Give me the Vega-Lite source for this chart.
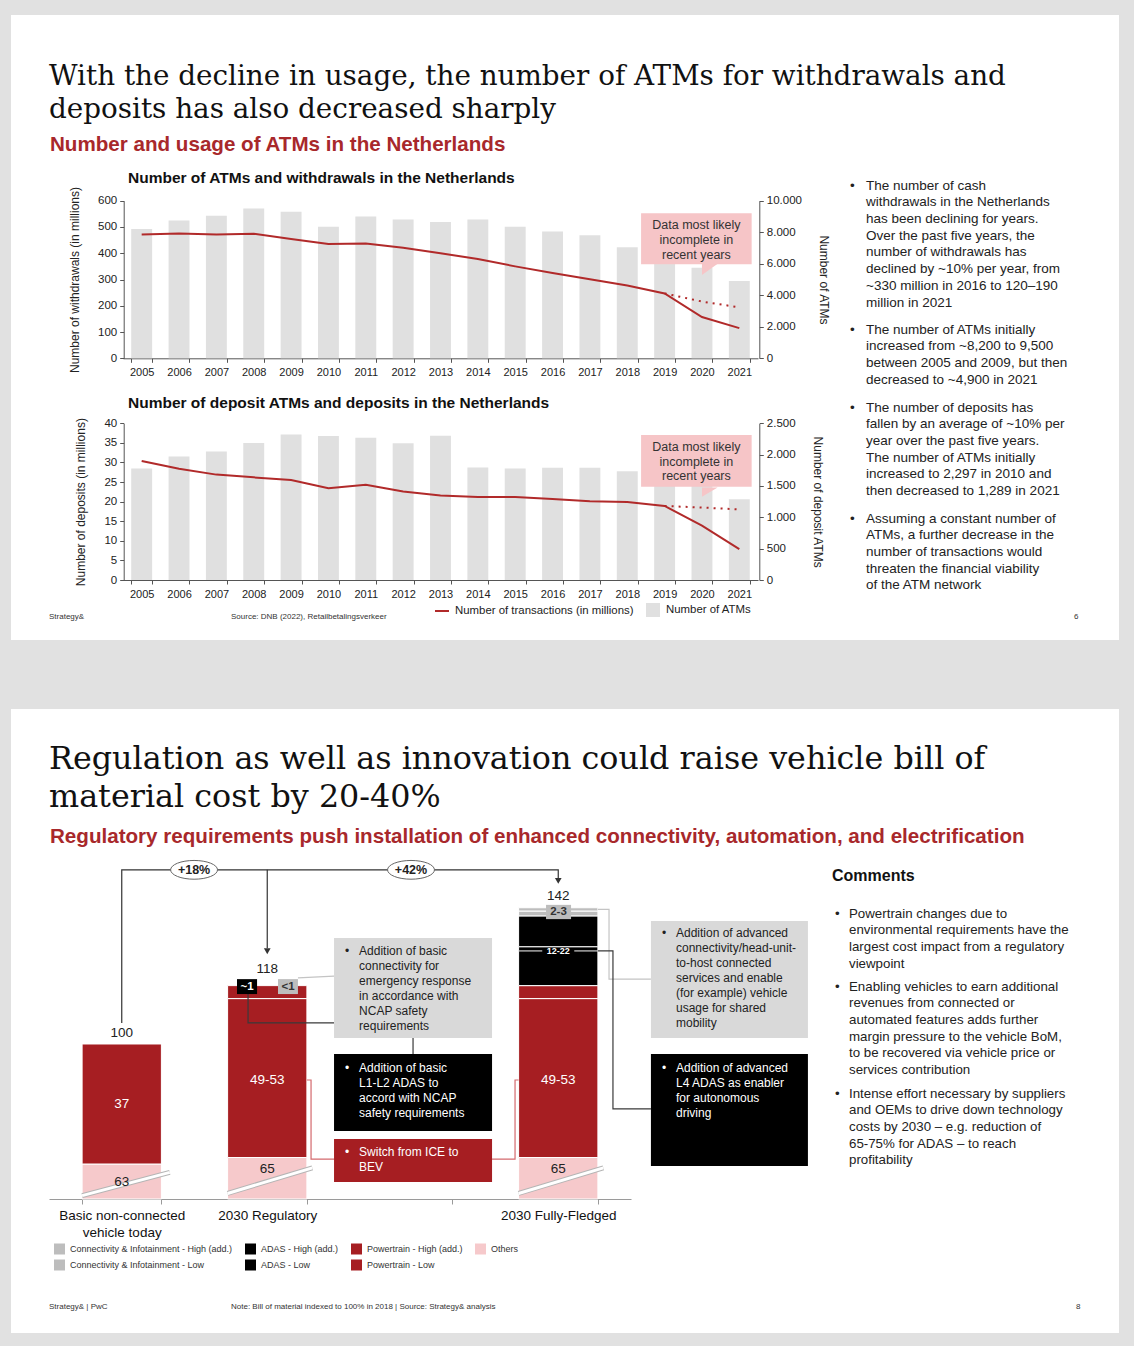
{
  "$schema": "https://vega.github.io/schema/vega-lite/v6.json",
  "background": "#e1e1e1",
  "padding": {"left": 10, "top": 15, "right": 16, "bottom": 14},
  "spacing": 68,
  "config": {
    "font": "Liberation Sans",
    "view": {"stroke": null},
    "text": {"font": "Liberation Sans"},
    "axis": {"labelFont": "Liberation Sans", "titleFont": "Liberation Sans", "grid": false},
    "legend": {"labelFont": "Liberation Sans", "padding": 0, "labelLimit": 400}
  },
  "resolve": {
    "scale": {"color": "independent", "fill": "independent", "stroke": "independent"},
    "legend": {"color": "independent", "fill": "independent", "stroke": "independent"}
  },
  "datasets": {
    "atm": [
      {"year": 2005, "atms": 8200, "withdrawals": 471, "deposit_atms": 1780, "deposits": 30.4},
      {"year": 2006, "atms": 8750, "withdrawals": 475, "deposit_atms": 1970, "deposits": 28.4},
      {"year": 2007, "atms": 9050, "withdrawals": 471, "deposit_atms": 2050, "deposits": 26.9},
      {"year": 2008, "atms": 9500, "withdrawals": 474, "deposit_atms": 2185, "deposits": 26.2},
      {"year": 2009, "atms": 9300, "withdrawals": 454, "deposit_atms": 2320, "deposits": 25.5},
      {"year": 2010, "atms": 8350, "withdrawals": 435, "deposit_atms": 2297, "deposits": 23.4},
      {"year": 2011, "atms": 9000, "withdrawals": 437, "deposit_atms": 2270, "deposits": 24.3},
      {"year": 2012, "atms": 8800, "withdrawals": 421, "deposit_atms": 2180, "deposits": 22.6},
      {"year": 2013, "atms": 8650, "withdrawals": 400, "deposit_atms": 2300, "deposits": 21.6},
      {"year": 2014, "atms": 8800, "withdrawals": 378, "deposit_atms": 1795, "deposits": 21.2},
      {"year": 2015, "atms": 8350, "withdrawals": 350, "deposit_atms": 1780, "deposits": 21.2},
      {"year": 2016, "atms": 8050, "withdrawals": 325, "deposit_atms": 1790, "deposits": 20.7},
      {"year": 2017, "atms": 7800, "withdrawals": 301, "deposit_atms": 1790, "deposits": 20.1},
      {"year": 2018, "atms": 7050, "withdrawals": 277, "deposit_atms": 1735, "deposits": 19.9},
      {"year": 2019, "atms": 6600, "withdrawals": 247, "deposit_atms": 1650, "deposits": 18.9},
      {"year": 2020, "atms": 5750, "withdrawals": 157, "deposit_atms": 1550, "deposits": 13.9},
      {"year": 2021, "atms": 4900, "withdrawals": 115, "deposit_atms": 1289, "deposits": 7.9}
    ],
    "atm_est": [
      {"year": 2019, "withdrawals": 247, "deposits": 18.9},
      {"year": 2020, "withdrawals": 216, "deposits": 18.5},
      {"year": 2021, "withdrawals": 194, "deposits": 18.0}
    ],
    "notes1": [
      {"para": 1, "part": "bullet", "text": "•"},
      {"para": 1, "part": "body", "text": "The number of cash\nwithdrawals in the Netherlands\nhas been declining for years.\nOver the past five years, the\nnumber of withdrawals has\ndeclined by ~10% per year, from\n~330 million in 2016 to 120–190\nmillion in 2021"},
      {"para": 2, "part": "bullet", "text": "•"},
      {"para": 2, "part": "body", "text": "The number of ATMs initially\nincreased from ~8,200 to 9,500\nbetween 2005 and 2009, but then\ndecreased to ~4,900 in 2021"},
      {"para": 3, "part": "bullet", "text": "•"},
      {"para": 3, "part": "body", "text": "The number of deposits has\nfallen by an average of ~10% per\nyear over the past five years.\nThe number of ATMs initially\nincreased to 2,297 in 2010 and\nthen decreased to 1,289 in 2021"},
      {"para": 4, "part": "bullet", "text": "•"},
      {"para": 4, "part": "body", "text": "Assuming a constant number of\nATMs, a further decrease in the\nnumber of transactions would\nthreaten the financial viability\nof the ATM network"}
    ],
    "bom": [
      {"cat": "Basic non-connected vehicle today", "component": "Others", "lo": 0, "hi": 63},
      {"cat": "Basic non-connected vehicle today", "component": "Powertrain - Low", "lo": 63, "hi": 100},
      {"cat": "2030 Regulatory", "component": "Others", "lo": 0, "hi": 65},
      {"cat": "2030 Regulatory", "component": "Powertrain - Low", "lo": 65, "hi": 114},
      {"cat": "2030 Regulatory", "component": "Powertrain - High (add.)", "lo": 114, "hi": 118},
      {"cat": "2030 Fully-Fledged", "component": "Others", "lo": 0, "hi": 65},
      {"cat": "2030 Fully-Fledged", "component": "Powertrain - Low", "lo": 65, "hi": 114},
      {"cat": "2030 Fully-Fledged", "component": "Powertrain - High (add.)", "lo": 114, "hi": 118},
      {"cat": "2030 Fully-Fledged", "component": "ADAS - Low", "lo": 118, "hi": 130},
      {"cat": "2030 Fully-Fledged", "component": "ADAS - High (add.)", "lo": 130, "hi": 139.5},
      {"cat": "2030 Fully-Fledged", "component": "Connectivity & Infotainment - Low", "lo": 139.5, "hi": 141},
      {"cat": "2030 Fully-Fledged", "component": "Connectivity & Infotainment - High (add.)", "lo": 141, "hi": 142}
    ],
    "breaks": [
      {"x0": 0.2275, "v0": 6, "x1": 0.83, "v1": 48},
      {"x0": 1.2275, "v0": 10, "x1": 1.81, "v1": 56},
      {"x0": 3.2275, "v0": 10, "x1": 3.81, "v1": 56}
    ],
    "bom_labels": [
      {"pos": 0.5, "v": 81.5, "label": "37", "on": "powertrain"},
      {"pos": 1.5, "v": 88.9, "label": "49-53", "on": "powertrain"},
      {"pos": 3.5, "v": 88.9, "label": "49-53", "on": "powertrain"},
      {"pos": 0.5, "v": 30.6, "label": "63", "on": "others"},
      {"pos": 1.5, "v": 54, "label": "65", "on": "others"},
      {"pos": 3.5, "v": 54, "label": "65", "on": "others"},
      {"pos": 0.5, "v": 103.4, "label": "100", "on": "total"},
      {"pos": 1.5, "v": 123.1, "label": "118", "on": "total"},
      {"pos": 3.5, "v": 145.6, "label": "142", "on": "total"}
    ],
    "links": [
      {"link": "growth", "seq": 1, "pos": 0.5, "v": 106.5, "kind": "growth"},
      {"link": "growth", "seq": 2, "pos": 0.5, "v": 153.7, "kind": "growth"},
      {"link": "growth", "seq": 3, "pos": 3.5, "v": 153.7, "kind": "growth"},
      {"link": "growth", "seq": 4, "pos": 3.5, "v": 151.2, "kind": "growth"},
      {"link": "growth2", "seq": 1, "pos": 1.5, "v": 153.7, "kind": "growth"},
      {"link": "growth2", "seq": 2, "pos": 1.5, "v": 129.5, "kind": "growth"},
      {"link": "adas_reg", "seq": 1, "pos": 1.368, "v": 116, "kind": "adas"},
      {"link": "adas_reg", "seq": 2, "pos": 1.368, "v": 106.5, "kind": "adas"},
      {"link": "adas_reg", "seq": 3, "pos": 1.959, "v": 106.5, "kind": "adas"},
      {"link": "box_ab", "seq": 1, "pos": 2.502, "v": 101.85, "kind": "adas"},
      {"link": "box_ab", "seq": 2, "pos": 2.502, "v": 96.9, "kind": "adas"},
      {"link": "conn_reg", "seq": 1, "pos": 1.711, "v": 120.4, "kind": "connectivity"},
      {"link": "conn_reg", "seq": 2, "pos": 1.959, "v": 120.9, "kind": "connectivity"},
      {"link": "pt_reg", "seq": 1, "pos": 1.7725, "v": 88.9, "kind": "powertrain"},
      {"link": "pt_reg", "seq": 2, "pos": 1.801, "v": 88.9, "kind": "powertrain"},
      {"link": "pt_reg", "seq": 3, "pos": 1.801, "v": 64.5, "kind": "powertrain"},
      {"link": "pt_reg", "seq": 4, "pos": 1.959, "v": 64.5, "kind": "powertrain"},
      {"link": "pt_ff", "seq": 1, "pos": 3.045, "v": 64.5, "kind": "powertrain"},
      {"link": "pt_ff", "seq": 2, "pos": 3.203, "v": 64.5, "kind": "powertrain"},
      {"link": "pt_ff", "seq": 3, "pos": 3.203, "v": 88.9, "kind": "powertrain"},
      {"link": "pt_ff", "seq": 4, "pos": 3.2275, "v": 88.9, "kind": "powertrain"},
      {"link": "conn_ff", "seq": 1, "pos": 3.7725, "v": 141.5, "kind": "connectivity"},
      {"link": "conn_ff", "seq": 2, "pos": 3.849, "v": 141.5, "kind": "connectivity"},
      {"link": "conn_ff", "seq": 3, "pos": 3.849, "v": 120.0, "kind": "connectivity"},
      {"link": "conn_ff", "seq": 4, "pos": 4.137, "v": 120.0, "kind": "connectivity"},
      {"link": "range_l", "seq": 1, "pos": 3.2275, "v": 128.7, "kind": "range"},
      {"link": "range_l", "seq": 2, "pos": 3.39, "v": 128.7, "kind": "range"},
      {"link": "range_r", "seq": 1, "pos": 3.61, "v": 128.7, "kind": "range"},
      {"link": "range_r", "seq": 2, "pos": 3.7725, "v": 128.7, "kind": "range"},
      {"link": "adas_ff", "seq": 1, "pos": 3.7725, "v": 128.7, "kind": "adas"},
      {"link": "adas_ff", "seq": 2, "pos": 3.876, "v": 128.7, "kind": "adas"},
      {"link": "adas_ff", "seq": 3, "pos": 3.876, "v": 80.0, "kind": "adas"},
      {"link": "adas_ff", "seq": 4, "pos": 4.137, "v": 80.0, "kind": "adas"}
    ],
    "boxes": [
      {"box": "A", "topic": "connectivity", "x0": 1.959, "x1": 3.045, "top": 132.7, "bottom": 101.85},
      {"box": "B", "topic": "adas", "x0": 1.959, "x1": 3.045, "top": 96.9, "bottom": 73.2},
      {"box": "C", "topic": "powertrain", "x0": 1.959, "x1": 3.045, "top": 70.7, "bottom": 30.6},
      {"box": "D", "topic": "connectivity", "x0": 4.137, "x1": 5.216, "top": 137.9, "bottom": 101.85},
      {"box": "E", "topic": "adas", "x0": 4.137, "x1": 5.216, "top": 96.9, "bottom": 59.4}
    ],
    "box_text": [
      {"topic": "connectivity", "pos": 2.034, "v": 127.4, "text": "•"},
      {"topic": "connectivity", "pos": 2.131, "v": 127.4, "text": "Addition of basic\nconnectivity for\nemergency response\nin accordance with\nNCAP safety\nrequirements"},
      {"topic": "adas", "pos": 2.034, "v": 91.3, "text": "•"},
      {"topic": "adas", "pos": 2.131, "v": 91.3, "text": "Addition of basic\nL1-L2 ADAS to\naccord with NCAP\nsafety requirements"},
      {"topic": "powertrain", "pos": 2.034, "v": 65.5, "text": "•"},
      {"topic": "powertrain", "pos": 2.131, "v": 65.5, "text": "Switch from ICE to\nBEV"},
      {"topic": "connectivity", "pos": 4.213, "v": 132.9, "text": "•"},
      {"topic": "connectivity", "pos": 4.309, "v": 132.9, "text": "Addition of advanced\nconnectivity/head-unit-\nto-host connected\nservices and enable\n(for example) vehicle\nusage for shared\nmobility"},
      {"topic": "adas", "pos": 4.213, "v": 91.3, "text": "•"},
      {"topic": "adas", "pos": 4.309, "v": 91.3, "text": "Addition of advanced\nL4 ADAS as enabler\nfor autonomous\ndriving"}
    ],
    "badges": [
      {"topic": "adas", "x0": 1.292, "x1": 1.43, "top": 120.0, "bottom": 115.4},
      {"topic": "connectivity", "x0": 1.574, "x1": 1.711, "top": 120.0, "bottom": 115.4},
      {"topic": "connectivity", "x0": 3.416, "x1": 3.588, "top": 142.9, "bottom": 138.5}
    ],
    "badge_labels": [
      {"topic": "adas", "pos": 1.361, "v": 117.7, "label": "~1"},
      {"topic": "connectivity", "pos": 1.643, "v": 117.7, "label": "<1"},
      {"topic": "connectivity", "pos": 3.502, "v": 140.7, "label": "2-3"}
    ],
    "notes2": [
      {"para": 1, "part": "bullet", "text": "•"},
      {"para": 1, "part": "body", "text": "Powertrain changes due to\nenvironmental requirements have the\nlargest cost impact from a regulatory\nviewpoint"},
      {"para": 2, "part": "bullet", "text": "•"},
      {"para": 2, "part": "body", "text": "Enabling vehicles to earn additional\nrevenues from connected or\nautomated features adds further\nmargin pressure to the vehicle BoM,\nto be recovered via vehicle price or\nservices contribution"},
      {"para": 3, "part": "bullet", "text": "•"},
      {"para": 3, "part": "body", "text": "Intense effort necessary by suppliers\nand OEMs to drive down technology\ncosts by 2030 – e.g. reduction of\n65-75% for ADAS – to reach\nprofitability"}
    ]
  },
  "vconcat": [
    {
      "width": 1108,
      "height": 625,
      "view": {"fill": "#ffffff", "stroke": null},
      "resolve": {
        "scale": {"x": "independent", "y": "independent", "color": "independent"},
        "axis": {"x": "independent", "y": "independent"}
      },
      "layer": [
        {
          "data": {"name": "atm"},
          "mark": {"type": "bar"},
          "encoding": {
            "x": {"field": "year", "type": "ordinal", "scale": {"domain": [2005,2006,2007,2008,2009,2010,2011,2012,2013,2014,2015,2016,2017,2018,2019,2020,2021], "range": [112, 747], "paddingInner": 0.44, "paddingOuter": 0.22},
              "axis": {"orient": "bottom", "offset": -281.7, "title": null, "labelAngle": 0, "tickBand": "extent", "labelFontSize": 11, "labelColor": "#222", "domainColor": "#555", "tickColor": "#555", "tickSize": 4, "labelPadding": 4}},
            "y": {"field": "atms", "type": "quantitative", "scale": {"domain": [0, 10000], "range": [343.3, 185.7], "nice": false},
              "axis": {"orient": "right", "offset": -359.7, "values": [0, 2000, 4000, 6000, 8000, 10000], "labelExpr": "replace(format(datum.value, ','), ',', '.')", "title": "Number of ATMs", "titleFontWeight": "normal", "titleFontSize": 12, "titleColor": "#222", "titlePadding": 15, "labelFontSize": 11.5, "labelColor": "#222", "domainColor": "#555", "tickColor": "#555", "tickSize": 4, "labelPadding": 3}},
            "fill": {"datum": "Number of ATMs", "type": "nominal", "scale": {"range": ["#e0e0e0"]},
              "legend": {"orient": "none", "legendX": 635, "legendY": 588, "title": null, "symbolType": "square", "symbolSize": 196, "symbolStrokeWidth": 0, "labelFontSize": 11.4, "labelColor": "#222", "labelOffset": 6, "labelLimit": 400}}
          }
        },
        {
          "data": {"name": "atm"},
          "mark": {"type": "line", "strokeWidth": 2},
          "encoding": {
            "x": {"field": "year", "type": "ordinal", "scale": {"domain": [2005,2006,2007,2008,2009,2010,2011,2012,2013,2014,2015,2016,2017,2018,2019,2020,2021], "range": [112, 747], "paddingInner": 0.44, "paddingOuter": 0.22}, "axis": null},
            "y": {"field": "withdrawals", "type": "quantitative", "scale": {"domain": [0, 600], "range": [343.3, 185.7], "nice": false},
              "axis": {"orient": "left", "offset": -112.7, "values": [0, 100, 200, 300, 400, 500, 600], "title": "Number of withdrawals (in millions)", "titleFontWeight": "normal", "titleFontSize": 12, "titleColor": "#222", "titlePadding": 16, "labelFontSize": 11.5, "labelColor": "#222", "domainColor": "#555", "tickColor": "#555", "tickSize": 4, "labelPadding": 3}},
            "stroke": {"datum": "Number of transactions (in millions)", "type": "nominal", "scale": {"range": ["#b12a2a"]},
              "legend": {"orient": "none", "legendX": 423, "legendY": 588, "title": null, "symbolType": "stroke", "symbolSize": 196, "symbolStrokeWidth": 2, "labelFontSize": 11.4, "labelColor": "#222", "labelOffset": 5, "labelLimit": 400}}
          }
        },
        {
          "data": {"name": "atm_est"},
          "mark": {"type": "line", "strokeWidth": 2, "strokeDash": [2, 5], "color": "#b12a2a"},
          "encoding": {
            "x": {"field": "year", "type": "ordinal", "scale": {"domain": [2005,2006,2007,2008,2009,2010,2011,2012,2013,2014,2015,2016,2017,2018,2019,2020,2021], "range": [112, 747], "paddingInner": 0.44, "paddingOuter": 0.22}, "axis": null},
            "y": {"field": "withdrawals", "type": "quantitative", "scale": {"domain": [0, 600], "range": [343.3, 185.7], "nice": false}, "axis": null}
          }
        },
        {
          "data": {"values": [{"from": 2018.37, "to": 2021.33, "top": 552, "bottom": 358}]},
          "mark": {"type": "rect", "color": "#f6c5c7"},
          "encoding": {
            "x": {"field": "from", "type": "quantitative", "scale": {"domain": [2005, 2021], "range": [130.68, 728.32], "nice": false, "zero": false}, "axis": null},
            "x2": {"field": "to"},
            "y": {"field": "top", "type": "quantitative", "scale": {"domain": [0, 600], "range": [343.3, 185.7], "nice": false}, "axis": null},
            "y2": {"field": "bottom"}
          }
        },
        {
          "data": {"values": [{"yr": 2020.0, "low": 317, "high": 360}, {"yr": 2020.42, "low": 360, "high": 360}]},
          "mark": {"type": "area", "color": "#f6c5c7"},
          "encoding": {
            "x": {"field": "yr", "type": "quantitative", "scale": {"domain": [2005, 2021], "range": [130.68, 728.32], "nice": false, "zero": false}, "axis": null},
            "y": {"field": "low", "type": "quantitative", "scale": {"domain": [0, 600], "range": [343.3, 185.7], "nice": false}, "axis": null},
            "y2": {"field": "high"}
          }
        },
        {
          "data": {"values": [{"yr": 2019.85, "w": 492, "note": "Data most likely\nincomplete in\nrecent years"}]},
          "mark": {"type": "text", "align": "center", "baseline": "alphabetic", "lineBreak": "\n", "lineHeight": 14.8, "fontSize": 12.5, "color": "#333333"},
          "encoding": {
            "x": {"field": "yr", "type": "quantitative", "scale": {"domain": [2005, 2021], "range": [130.68, 728.32], "nice": false, "zero": false}, "axis": null},
            "y": {"field": "w", "type": "quantitative", "scale": {"domain": [0, 600], "range": [343.3, 185.7], "nice": false}, "axis": null},
            "text": {"field": "note"}
          }
        },
        {
          "data": {"name": "atm"},
          "mark": {"type": "bar"},
          "encoding": {
            "x": {"field": "year", "type": "ordinal", "scale": {"domain": [2005,2006,2007,2008,2009,2010,2011,2012,2013,2014,2015,2016,2017,2018,2019,2020,2021], "range": [112, 747], "paddingInner": 0.44, "paddingOuter": 0.22},
              "axis": {"orient": "bottom", "offset": -60, "title": null, "labelAngle": 0, "tickBand": "extent", "labelFontSize": 11, "labelColor": "#222", "domainColor": "#555", "tickColor": "#555", "tickSize": 4, "labelPadding": 4}},
            "y": {"field": "deposit_atms", "type": "quantitative", "scale": {"domain": [0, 2500], "range": [565, 408.3], "nice": false},
              "axis": {"orient": "right", "offset": -359.7, "values": [0, 500, 1000, 1500, 2000, 2500], "labelExpr": "replace(format(datum.value, ','), ',', '.')", "title": "Number of deposit ATMs", "titleFontWeight": "normal", "titleFontSize": 12, "titleColor": "#222", "titlePadding": 15, "labelFontSize": 11.5, "labelColor": "#222", "domainColor": "#555", "tickColor": "#555", "tickSize": 4, "labelPadding": 3}},
            "fill": {"datum": "Number of ATMs", "type": "nominal", "scale": {"range": ["#e0e0e0"]}, "legend": null}
          }
        },
        {
          "data": {"name": "atm"},
          "mark": {"type": "line", "strokeWidth": 2},
          "encoding": {
            "x": {"field": "year", "type": "ordinal", "scale": {"domain": [2005,2006,2007,2008,2009,2010,2011,2012,2013,2014,2015,2016,2017,2018,2019,2020,2021], "range": [112, 747], "paddingInner": 0.44, "paddingOuter": 0.22}, "axis": null},
            "y": {"field": "deposits", "type": "quantitative", "scale": {"domain": [0, 40], "range": [565, 408.3], "nice": false},
              "axis": {"orient": "left", "offset": -112.7, "values": [0, 5, 10, 15, 20, 25, 30, 35, 40], "title": "Number of deposits (in millions)", "titleFontWeight": "normal", "titleFontSize": 12, "titleColor": "#222", "titlePadding": 16, "labelFontSize": 11.5, "labelColor": "#222", "domainColor": "#555", "tickColor": "#555", "tickSize": 4, "labelPadding": 3}},
            "stroke": {"datum": "Number of transactions (in millions)", "type": "nominal", "scale": {"range": ["#b12a2a"]}, "legend": null}
          }
        },
        {
          "data": {"name": "atm_est"},
          "mark": {"type": "line", "strokeWidth": 2, "strokeDash": [2, 5], "color": "#b12a2a"},
          "encoding": {
            "x": {"field": "year", "type": "ordinal", "scale": {"domain": [2005,2006,2007,2008,2009,2010,2011,2012,2013,2014,2015,2016,2017,2018,2019,2020,2021], "range": [112, 747], "paddingInner": 0.44, "paddingOuter": 0.22}, "axis": null},
            "y": {"field": "deposits", "type": "quantitative", "scale": {"domain": [0, 40], "range": [565, 408.3], "nice": false}, "axis": null}
          }
        },
        {
          "data": {"values": [{"from": 2018.37, "to": 2021.33, "top": 37.0, "bottom": 23.8}]},
          "mark": {"type": "rect", "color": "#f6c5c7"},
          "encoding": {
            "x": {"field": "from", "type": "quantitative", "scale": {"domain": [2005, 2021], "range": [130.68, 728.32], "nice": false, "zero": false}, "axis": null},
            "x2": {"field": "to"},
            "y": {"field": "top", "type": "quantitative", "scale": {"domain": [0, 40], "range": [565, 408.3], "nice": false}, "axis": null},
            "y2": {"field": "bottom"}
          }
        },
        {
          "data": {"values": [{"yr": 2020.0, "low": 21.26, "high": 23.6}, {"yr": 2020.42, "low": 23.6, "high": 23.6}]},
          "mark": {"type": "area", "color": "#f6c5c7"},
          "encoding": {
            "x": {"field": "yr", "type": "quantitative", "scale": {"domain": [2005, 2021], "range": [130.68, 728.32], "nice": false, "zero": false}, "axis": null},
            "y": {"field": "low", "type": "quantitative", "scale": {"domain": [0, 40], "range": [565, 408.3], "nice": false}, "axis": null},
            "y2": {"field": "high"}
          }
        },
        {
          "data": {"values": [{"yr": 2019.85, "d": 33.0, "note": "Data most likely\nincomplete in\nrecent years"}]},
          "mark": {"type": "text", "align": "center", "baseline": "alphabetic", "lineBreak": "\n", "lineHeight": 14.8, "fontSize": 12.5, "color": "#333333"},
          "encoding": {
            "x": {"field": "yr", "type": "quantitative", "scale": {"domain": [2005, 2021], "range": [130.68, 728.32], "nice": false, "zero": false}, "axis": null},
            "y": {"field": "d", "type": "quantitative", "scale": {"domain": [0, 40], "range": [565, 408.3], "nice": false}, "axis": null},
            "text": {"field": "note"}
          }
        },
        {
          "data": {"values": [
            {"chart": 1, "title": "Number of ATMs and withdrawals in the Netherlands"},
            {"chart": 2, "title": "Number of deposit ATMs and deposits in the Netherlands"}
          ]},
          "mark": {"type": "text", "align": "left", "baseline": "alphabetic", "fontSize": 15.5, "fontWeight": "bold", "color": "#111111", "x": 117},
          "encoding": {
            "y": {"field": "chart", "type": "quantitative", "scale": {"domain": [1, 2], "range": [168.3, 393.3], "nice": false, "zero": false}, "axis": null},
            "text": {"field": "title"}
          }
        },
        {
          "data": {"values": [{"headline": "With the decline in usage, the number of ATMs for withdrawals and\ndeposits has also decreased sharply"}]},
          "mark": {"type": "text", "font": "DejaVu Serif", "fontSize": 27.8, "lineHeight": 33, "lineBreak": "\n", "align": "left", "baseline": "alphabetic", "color": "#111111", "x": 38, "y": 70.3},
          "encoding": {"text": {"field": "headline"}}
        },
        {
          "data": {"values": [{"subtitle": "Number and usage of ATMs in the Netherlands"}]},
          "mark": {"type": "text", "fontSize": 20.6, "fontWeight": "bold", "color": "#a8282b", "align": "left", "baseline": "alphabetic", "x": 39, "y": 136},
          "encoding": {"text": {"field": "subtitle"}}
        },
        {
          "data": {"name": "notes1"},
          "mark": {"type": "text", "align": "left", "baseline": "alphabetic", "lineBreak": "\n", "lineHeight": 16.7, "fontSize": 13.5, "color": "#222222"},
          "encoding": {
            "x": {"field": "part", "type": "nominal", "scale": {"type": "point", "domain": ["bullet", "body"], "range": [839, 855], "padding": 0}, "axis": null},
            "y": {"field": "para", "type": "quantitative", "scale": {"domain": [1, 2, 3, 4], "range": [174.7, 318.7, 396.7, 507.7], "nice": false, "zero": false}, "axis": null},
            "text": {"field": "text"}
          }
        },
        {
          "data": {"values": [
            {"slot": 1, "text": "Strategy&"},
            {"slot": 2, "text": "Source: DNB (2022), Retailbetalingsverkeer"},
            {"slot": 3, "text": "6"}
          ]},
          "mark": {"type": "text", "align": "left", "baseline": "alphabetic", "fontSize": 8, "color": "#333333", "y": 603.5},
          "encoding": {
            "x": {"field": "slot", "type": "quantitative", "scale": {"domain": [1, 2, 3], "range": [38, 220, 1063], "nice": false, "zero": false}, "axis": null},
            "text": {"field": "text"}
          }
        }
      ]
    },
    {
      "width": 1108,
      "height": 624,
      "view": {"fill": "#ffffff", "stroke": null},
      "resolve": {
        "scale": {"x": "independent", "y": "independent", "color": "independent", "stroke": "independent"},
        "axis": {"x": "independent", "y": "independent"}
      },
      "layer": [
        {
          "data": {"name": "bom"},
          "mark": {"type": "bar", "stroke": "#ffffff", "strokeWidth": 1},
          "encoding": {
            "x": {"field": "cat", "type": "nominal", "scale": {"domain": ["Basic non-connected vehicle today", "2030 Regulatory", "gap", "2030 Fully-Fledged"], "range": [38, 620], "paddingInner": 0.455, "paddingOuter": 0.2275},
              "axis": {"orient": "bottom", "offset": -134, "title": null, "labelAngle": 0, "tickBand": "extent", "labelExpr": "datum.value == 'gap' ? '' : (datum.value == 'Basic non-connected vehicle today' ? ['Basic non-connected', 'vehicle today'] : datum.label)", "labelFontSize": 13.5, "labelLineHeight": 17, "labelColor": "#111111", "domainColor": "#9a9a9a", "tickColor": "#9a9a9a", "tickSize": 5, "labelPadding": 4}},
            "y": {"field": "lo", "type": "quantitative", "scale": {"domain": [0, 63, 160], "range": [490, 455, 140.4], "nice": false, "zero": false}, "axis": null},
            "y2": {"field": "hi"},
            "fill": {"field": "component", "type": "nominal",
              "scale": {"domain": ["Connectivity & Infotainment - High (add.)", "ADAS - High (add.)", "Powertrain - High (add.)", "Others", "Connectivity & Infotainment - Low", "ADAS - Low", "Powertrain - Low"],
                        "range": ["#bdbdbd", "#000000", "#a61e22", "#f6c9cb", "#bdbdbd", "#000000", "#a61e22"]},
              "legend": {"orient": "none", "legendX": 43, "legendY": 534.5, "direction": "horizontal", "columns": 4, "title": null, "symbolType": "square", "symbolSize": 121, "symbolStrokeWidth": 0, "labelFontSize": 9, "labelColor": "#333333", "columnPadding": 12, "rowPadding": 5, "labelOffset": 5, "labelLimit": 400}}
          }
        },
        {
          "data": {"name": "breaks"},
          "mark": {"type": "rule", "color": "#b5b5b5", "strokeWidth": 5},
          "encoding": {
            "x": {"field": "x0", "type": "quantitative", "scale": {"domain": [0, 4], "range": [38, 620], "nice": false, "zero": false}, "axis": null},
            "x2": {"field": "x1"},
            "y": {"field": "v0", "type": "quantitative", "scale": {"domain": [0, 63, 160], "range": [490, 455, 140.4], "nice": false, "zero": false}, "axis": null},
            "y2": {"field": "v1"}
          }
        },
        {
          "data": {"name": "breaks"},
          "mark": {"type": "rule", "color": "#ffffff", "strokeWidth": 3},
          "encoding": {
            "x": {"field": "x0", "type": "quantitative", "scale": {"domain": [0, 4], "range": [38, 620], "nice": false, "zero": false}, "axis": null},
            "x2": {"field": "x1"},
            "y": {"field": "v0", "type": "quantitative", "scale": {"domain": [0, 63, 160], "range": [490, 455, 140.4], "nice": false, "zero": false}, "axis": null},
            "y2": {"field": "v1"}
          }
        },
        {
          "data": {"name": "links"},
          "mark": {"type": "line", "strokeWidth": 1.2},
          "encoding": {
            "x": {"field": "pos", "type": "quantitative", "scale": {"domain": [0, 4], "range": [38, 620], "nice": false, "zero": false}, "axis": null},
            "y": {"field": "v", "type": "quantitative", "scale": {"domain": [0, 63, 160], "range": [490, 455, 140.4], "nice": false, "zero": false}, "axis": null},
            "detail": {"field": "link", "type": "nominal"},
            "order": {"field": "seq", "type": "quantitative"},
            "stroke": {"field": "kind", "type": "nominal", "scale": {"domain": ["growth", "adas", "connectivity", "powertrain", "range"], "range": ["#333333", "#3a3a3a", "#c4c4c4", "#d46a6e", "#d0d0d0"]}, "legend": null}
          }
        },
        {
          "data": {"values": [{"pos": 1.5, "v": 128.6}, {"pos": 3.5, "v": 150.3}]},
          "mark": {"type": "point", "shape": "triangle-down", "size": 45, "filled": true, "color": "#333333", "opacity": 1},
          "encoding": {
            "x": {"field": "pos", "type": "quantitative", "scale": {"domain": [0, 4], "range": [38, 620], "nice": false, "zero": false}, "axis": null},
            "y": {"field": "v", "type": "quantitative", "scale": {"domain": [0, 63, 160], "range": [490, 455, 140.4], "nice": false, "zero": false}, "axis": null}
          }
        },
        {
          "data": {"name": "boxes"},
          "mark": {"type": "rect"},
          "encoding": {
            "x": {"field": "x0", "type": "quantitative", "scale": {"domain": [0, 4], "range": [38, 620], "nice": false, "zero": false}, "axis": null},
            "x2": {"field": "x1"},
            "y": {"field": "top", "type": "quantitative", "scale": {"domain": [0, 63, 160], "range": [490, 455, 140.4], "nice": false, "zero": false}, "axis": null},
            "y2": {"field": "bottom"},
            "color": {"field": "topic", "type": "nominal", "scale": {"domain": ["connectivity", "adas", "powertrain"], "range": ["#d9d9d9", "#000000", "#a61e22"]}, "legend": null}
          }
        },
        {
          "data": {"name": "box_text"},
          "mark": {"type": "text", "align": "left", "baseline": "alphabetic", "lineBreak": "\n", "lineHeight": 14.9, "fontSize": 12},
          "encoding": {
            "x": {"field": "pos", "type": "quantitative", "scale": {"domain": [0, 4], "range": [38, 620], "nice": false, "zero": false}, "axis": null},
            "y": {"field": "v", "type": "quantitative", "scale": {"domain": [0, 63, 160], "range": [490, 455, 140.4], "nice": false, "zero": false}, "axis": null},
            "text": {"field": "text"},
            "color": {"field": "topic", "type": "nominal", "scale": {"domain": ["connectivity", "adas", "powertrain"], "range": ["#222222", "#ffffff", "#ffffff"]}, "legend": null}
          }
        },
        {
          "data": {"name": "badges"},
          "mark": {"type": "rect"},
          "encoding": {
            "x": {"field": "x0", "type": "quantitative", "scale": {"domain": [0, 4], "range": [38, 620], "nice": false, "zero": false}, "axis": null},
            "x2": {"field": "x1"},
            "y": {"field": "top", "type": "quantitative", "scale": {"domain": [0, 63, 160], "range": [490, 455, 140.4], "nice": false, "zero": false}, "axis": null},
            "y2": {"field": "bottom"},
            "color": {"field": "topic", "type": "nominal", "scale": {"domain": ["adas", "connectivity"], "range": ["#000000", "#bdbdbd"]}, "legend": null}
          }
        },
        {
          "data": {"name": "badge_labels"},
          "mark": {"type": "text", "align": "center", "baseline": "middle", "fontSize": 11.5, "fontWeight": "bold"},
          "encoding": {
            "x": {"field": "pos", "type": "quantitative", "scale": {"domain": [0, 4], "range": [38, 620], "nice": false, "zero": false}, "axis": null},
            "y": {"field": "v", "type": "quantitative", "scale": {"domain": [0, 63, 160], "range": [490, 455, 140.4], "nice": false, "zero": false}, "axis": null},
            "text": {"field": "label"},
            "color": {"field": "topic", "type": "nominal", "scale": {"domain": ["adas", "connectivity"], "range": ["#ffffff", "#333333"]}, "legend": null}
          }
        },
        {
          "data": {"name": "bom_labels"},
          "mark": {"type": "text", "align": "center", "baseline": "middle", "fontSize": 13.5},
          "encoding": {
            "x": {"field": "pos", "type": "quantitative", "scale": {"domain": [0, 4], "range": [38, 620], "nice": false, "zero": false}, "axis": null},
            "y": {"field": "v", "type": "quantitative", "scale": {"domain": [0, 63, 160], "range": [490, 455, 140.4], "nice": false, "zero": false}, "axis": null},
            "text": {"field": "label"},
            "color": {"field": "on", "type": "nominal", "scale": {"domain": ["powertrain", "others", "total"], "range": ["#ffffff", "#222222", "#222222"]}, "legend": null}
          }
        },
        {
          "data": {"values": [{"pos": 3.5, "v": 128.7, "label": "12-22"}]},
          "mark": {"type": "text", "align": "center", "baseline": "middle", "fontSize": 9, "fontWeight": "bold", "color": "#ffffff"},
          "encoding": {
            "x": {"field": "pos", "type": "quantitative", "scale": {"domain": [0, 4], "range": [38, 620], "nice": false, "zero": false}, "axis": null},
            "y": {"field": "v", "type": "quantitative", "scale": {"domain": [0, 63, 160], "range": [490, 455, 140.4], "nice": false, "zero": false}, "axis": null},
            "text": {"field": "label"}
          }
        },
        {
          "data": {"values": [{"pos": 0.997, "v": 153.7, "label": "+18%"}, {"pos": 2.488, "v": 153.7, "label": "+42%"}]},
          "layer": [
            {"mark": {"type": "point", "shape": "M-1,0A1,0.4,0,1,1,1,0A1,0.4,0,1,1,-1,0Z", "size": 2200, "filled": true, "fill": "#ffffff", "stroke": "#666666", "strokeWidth": 1, "opacity": 1}},
            {"mark": {"type": "text", "align": "center", "baseline": "middle", "fontSize": 12.5, "fontWeight": "bold", "color": "#222222"}, "encoding": {"text": {"field": "label"}}}
          ],
          "encoding": {
            "x": {"field": "pos", "type": "quantitative", "scale": {"domain": [0, 4], "range": [38, 620], "nice": false, "zero": false}, "axis": null},
            "y": {"field": "v", "type": "quantitative", "scale": {"domain": [0, 63, 160], "range": [490, 455, 140.4], "nice": false, "zero": false}, "axis": null}
          }
        },
        {
          "data": {"values": [{"header": "Comments"}]},
          "mark": {"type": "text", "align": "left", "baseline": "alphabetic", "fontSize": 16, "fontWeight": "bold", "color": "#111111", "x": 821, "y": 172},
          "encoding": {"text": {"field": "header"}}
        },
        {
          "data": {"values": [{"header": "Comments"}]},
          "mark": {"type": "rule", "color": "#b12a2a", "strokeWidth": 2.5, "x": 821, "x2": 1071, "y": 183, "y2": 183},
          "encoding": {}
        },
        {
          "data": {"name": "notes2"},
          "mark": {"type": "text", "align": "left", "baseline": "alphabetic", "lineBreak": "\n", "lineHeight": 16.7, "fontSize": 13.3, "color": "#222222"},
          "encoding": {
            "x": {"field": "part", "type": "nominal", "scale": {"type": "point", "domain": ["bullet", "body"], "range": [824, 838], "padding": 0}, "axis": null},
            "y": {"field": "para", "type": "quantitative", "scale": {"domain": [1, 2, 3], "range": [208.5, 281.5, 388.5], "nice": false, "zero": false}, "axis": null},
            "text": {"field": "text"}
          }
        },
        {
          "data": {"values": [{"headline": "Regulation as well as innovation could raise vehicle bill of\nmaterial cost by 20-40%"}]},
          "mark": {"type": "text", "font": "DejaVu Serif", "fontSize": 31.8, "lineHeight": 38, "lineBreak": "\n", "align": "left", "baseline": "alphabetic", "color": "#111111", "x": 38, "y": 59.5},
          "encoding": {"text": {"field": "headline"}}
        },
        {
          "data": {"values": [{"subtitle": "Regulatory requirements push installation of enhanced connectivity, automation, and electrification"}]},
          "mark": {"type": "text", "fontSize": 20.6, "fontWeight": "bold", "color": "#a8282b", "align": "left", "baseline": "alphabetic", "x": 39, "y": 133.5},
          "encoding": {"text": {"field": "subtitle"}}
        },
        {
          "data": {"values": [
            {"slot": 1, "text": "Strategy& | PwC"},
            {"slot": 2, "text": "Note: Bill of material indexed to 100% in 2018  |  Source: Strategy& analysis"},
            {"slot": 3, "text": "8"}
          ]},
          "mark": {"type": "text", "align": "left", "baseline": "alphabetic", "fontSize": 8, "color": "#333333", "y": 600},
          "encoding": {
            "x": {"field": "slot", "type": "quantitative", "scale": {"domain": [1, 2, 3], "range": [38, 220, 1065], "nice": false, "zero": false}, "axis": null},
            "text": {"field": "text"}
          }
        }
      ]
    }
  ]
}
